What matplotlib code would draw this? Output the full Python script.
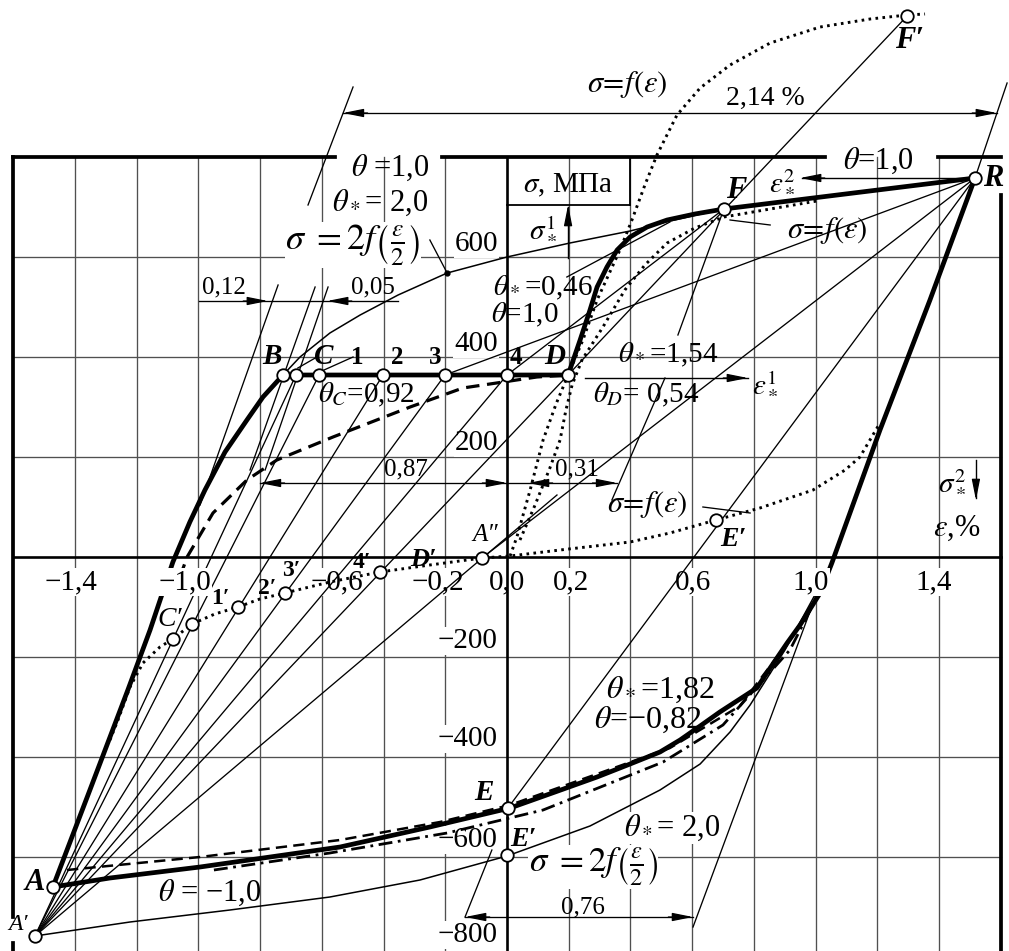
import matplotlib
matplotlib.use("Agg")
import matplotlib.pyplot as plt

plt.rcParams["font.family"] = ["Liberation Serif", "DejaVu Serif"]
plt.rcParams["mathtext.fontset"] = "stix"

MINUS = "\u2212"

# ---------------- data: strain in %, stress in MPa ----------------
strain_grid = [-1.4, -1.2, -1.0, -0.8, -0.6, -0.4, -0.2, 0.2, 0.4, 0.6, 0.8, 1.0, 1.2, 1.4]
stress_grid = [-600, -400, -200, 200, 400, 600]
strain_ticks = [-1.4, -1.0, -0.6, -0.2, 0.0, 0.2, 0.6, 1.0, 1.4]
strain_tick_labels = [MINUS + "1,4", MINUS + "1,0", MINUS + "0,6", MINUS + "0,2", "0,0", "0,2", "0,6", "1,0", "1,4"]
stress_ticks = [600, 400, 200, -200, -400, -600, -800]
stress_tick_labels = ["600", "400", "200", MINUS + "200", MINUS + "400", MINUS + "600", MINUS + "800"]

# main loop (thick): loading A-B, plateau B-D, hardening D-F-R
upper_eps = [-1.472, -1.352, -1.229, -1.157, -1.083, -1.028, -0.979, -0.914, -0.843, -0.791, -0.726,
             0.198, 0.237, 0.269, 0.292, 0.324, 0.357, 0.399, 0.454, 0.519, 0.609, 0.703, 1.517]
upper_sig = [-660, -466, -266, -146, -10, 70, 134, 210, 274, 320, 364,
             364, 434, 494, 540, 580, 614, 640, 660, 674, 686, 696, 758]
# reverse branch R -> A
lower_eps = [1.517, 1.371, 1.209, 1.053, 1.015, 0.950, 0.908, 0.853, 0.810, 0.755, 0.690, 0.626,
             0.561, 0.496, 0.399, 0.292, 0.156, 0.010, -0.250, -0.541, -0.995, -1.287, -1.472]
lower_sig = [758, 514, 254, -12, -72, -136, -172, -222, -262, -284, -310, -338,
             -366, -390, -414, -440, -470, -502, -540, -580, -620, -642, -660]

# dashed curves
dash_up_eps = [-1.06, -1.037, -0.953, -0.843, -0.746, -0.564, -0.314, -0.143, 0.097, 0.198]
dash_up_sig = [-40, 0, 88, 154, 194, 240, 300, 338, 360, 364]
dash_low_eps = [-1.426, -0.995, -0.541, -0.217, 0.010, 0.292, 0.528, 0.755, 0.917, 1.008]
dash_low_sig = [-626, -600, -566, -530, -496, -434, -382, -298, -166, -76]
# dash-dot curve
dashdot_eps = [-0.95, -0.574, -0.194, 0.117, 0.506, 0.700, 0.917, 1.008]
dashdot_sig = [-626, -592, -552, -506, -410, -336, -186, -76]

# sigma = 2 f(eps/2) curves (thin)
twof_up_eps = [-0.726, -0.671, -0.574, -0.476, -0.353, -0.194, 0.0, 0.204, 0.399, 0.528, 0.703]
twof_up_sig = [364, 400, 448, 484, 524, 568, 600, 628, 652, 672, 696]
twof_low_eps = [-1.530, -1.222, -0.898, -0.574, -0.282, 0.0, 0.269, 0.496, 0.626, 0.723, 0.788, 0.901, 0.998, 1.03]
twof_low_sig = [-758, -730, -706, -680, -646, -598, -538, -466, -414, -350, -296, -186, -76, -30]

# sigma = f(eps) dotted curves
dot_low_eps = [-1.287, -1.261, -1.222, -1.180, -1.125, -1.083, -1.021, -0.947, -0.872, -0.801, -0.720,
               -0.574, -0.412, -0.250, -0.081, 0.010, 0.172, 0.399, 0.528, 0.677, 0.820, 0.992,
               1.096, 1.144, 1.186, 1.209]
dot_low_sig = [-366, -326, -260, -212, -180, -164, -134, -114, -100, -84, -72,
               -50, -30, -16, -2, 2, 14, 30, 48, 74, 98, 134,
               174, 200, 244, 268]
dot_top_eps = [0.010, 0.032, 0.075, 0.117, 0.159, 0.198, 0.246, 0.292, 0.366, 0.405, 0.447, 0.486,
               0.551, 0.626, 0.723, 0.853, 1.015, 1.177, 1.297, 1.355]
dot_top_sig = [2, 40, 134, 234, 306, 364, 434, 514, 614, 674, 744, 804,
               884, 938, 984, 1028, 1060, 1076, 1084, 1086]
dot_mid_eps = [0.042, 0.091, 0.139, 0.172, 0.191, 0.211, 0.243, 0.311, 0.382, 0.447, 0.519, 0.609,
               0.703, 0.853, 1.005]
dot_mid_sig = [34, 104, 178, 234, 294, 344, 394, 460, 534, 584, 628, 658,
               680, 696, 712]

# characteristic points
pts = {
    "A": (-1.472, -660), "A'": (-1.530, -758), "B": (-0.726, 364), "C": (-0.684, 364),
    "1": (-0.609, 364), "2": (-0.402, 364), "3": (-0.201, 364), "4": (0.0, 364), "D": (0.198, 364),
    "F": (0.703, 696), "R": (1.517, 758), "F'": (1.297, 1082),
    "E": (0.003, -502), "E'": (0.0, -596), "E'u": (0.677, 74),
    "C'": (-1.083, -164), "1'": (-1.021, -134), "2'": (-0.872, -100), "3'": (-0.720, -72),
    "4'": (-0.412, -30), "A''": (-0.081, -2),
}
circled = ["A", "A'", "B", "C", "1", "2", "3", "4", "D", "F", "R", "F'", "E", "E'", "E'u",
           "C'", "1'", "2'", "3'", "4'", "A''"]

# rays between characteristic points
rays = [("A'", "C"), ("A'", "1"), ("A'", "2"), ("A'", "3"), ("A'", "4"), ("A'", "D"),
        ("R", "3"), ("R", "A''"), ("R", "E"), ("F'", "D"), ("F", "4")]

# other construction lines: ((eps0, sig0), (eps1, sig1))
guide_lines = [
    ((-1.530, -758), (0.162, 124)),
    ((-0.499, 940), (-0.645, 704)),
    ((1.621, 948), (1.517, 758)),
    ((-0.742, 544), (-0.995, 104)),
    ((-0.622, 540), (-0.833, 174)),
    ((-0.580, 540), (-0.784, 174)),
    ((0.340, 114), (0.512, 358)),
    ((-0.136, -720), (-0.049, -586)),
    ((0.603, -740), (1.008, -66)),
    ((-0.250, 634), (-0.194, 568)),
    ((0.723, 674), (0.853, 664)),
    ((0.635, 100), (0.788, 88)),
    ((-0.678, 378), (-0.616, 400)),
    ((-0.593, 374), (-0.499, 400)),
    ((0.194, 560), (0.528, 670)),
    ((0.554, 444), (0.703, 696)),
]

# dimension lines: (eps_start, eps_end, sig); arrow tips (eps, sig, direction)
dim_lines = [(-0.532, 1.588, 888), (-0.998, -0.353, 512), (-0.801, 0.357, 148), (-0.136, 0.603, -720)]
dim_tips = [(-0.532, 888, -1), (1.588, 888, 1), (-0.775, 512, 1), (-0.583, 512, -1),
            (-0.801, 148, -1), (0.0, 148, 1), (0.068, 148, -1), (0.357, 148, 1),
            (-0.136, -720, -1), (0.603, -720, 1)]

# ---------------- figure ----------------
fig = plt.figure(figsize=(10.09, 9.51), dpi=100)
ax = fig.add_axes([0, 0, 1, 1])
ax.set_xlim(-1.6434, 1.6272)
ax.set_ylim(-788, 1114)
ax.axis("off")

GRID = "#505050"
K = "black"

for e in strain_grid:
    ax.plot([e, e], [-800, 800], color=GRID, lw=0.95, zorder=1)
for s in stress_grid:
    ax.plot([-1.6, 1.6], [s, s], color=GRID, lw=0.95, zorder=1)

# frame with gaps for the labels on it
frame_w = 2.7
ax.plot([-1.6, -1.6], [800, -720], color=K, lw=frame_w, zorder=2, solid_capstyle="projecting")
ax.plot([-1.6, -1.6], [-772, -800], color=K, lw=frame_w, zorder=2)
ax.plot([1.6, 1.6], [724, -800], color=K, lw=frame_w, zorder=2)
for x0, x1 in [(-1.6, -0.558), (-0.211, 1.031), (1.397, 1.6)]:
    ax.plot([x0, x1], [800, 800], color=K, lw=frame_w, zorder=2, solid_capstyle="projecting")

# axes
ax.plot([-1.6, 1.6], [0, 0], color=K, lw=1.9, zorder=2)
ax.plot([0, 0], [800, -800], color=K, lw=1.9, zorder=2)
ax.plot([0, 0.399], [704, 704], color=K, lw=1.3, zorder=2)
ax.plot([0.399, 0.399], [704, 800], color=K, lw=1.3, zorder=2)

# construction lines
for a, b in rays:
    (x0, y0), (x1, y1) = pts[a], pts[b]
    ax.plot([x0, x1], [y0, y1], color=K, lw=0.95, zorder=3)
for (x0, y0), (x1, y1) in guide_lines:
    ax.plot([x0, x1], [y0, y1], color=K, lw=0.95, zorder=3)

# curves
ax.plot(twof_up_eps, twof_up_sig, color=K, lw=1.1, zorder=3)
ax.plot(twof_low_eps, twof_low_sig, color=K, lw=1.1, zorder=3)
dotted = dict(color=K, lw=2.1, linestyle=(0, (0.9, 1.5)), zorder=4)
ax.plot(dot_low_eps, dot_low_sig, **dotted)
ax.plot(dot_top_eps, dot_top_sig, **dotted)
ax.plot(dot_mid_eps, dot_mid_sig, **dotted)
ax.plot(dash_up_eps, dash_up_sig, color=K, lw=2.3, linestyle=(0, (4.2, 2.4)), zorder=4)
ax.plot(dash_low_eps, dash_low_sig, color=K, lw=1.8, linestyle=(0, (4.5, 2.5)), zorder=4)
ax.plot(dashdot_eps, dashdot_sig, color=K, lw=2.0, linestyle=(0, (5, 2, 1, 2)), zorder=4)
ax.plot(upper_eps, upper_sig, color=K, lw=3.4, zorder=5, solid_joinstyle="round")
ax.plot(lower_eps, lower_sig, color=K, lw=3.4, zorder=5, solid_joinstyle="round")


def head(tip, direction, vertical=False):
    """Filled arrowhead ending at tip; direction +1 points right/up, -1 left/down."""
    x, y = tip
    if vertical:
        tail = (x, y - direction * 40)
    else:
        tail = (x - direction * 0.08, y)
    ax.annotate("", xy=(x, y), xytext=tail,
                arrowprops=dict(arrowstyle="-|>,head_length=0.9,head_width=0.18",
                                color=K, lw=0.9, shrinkA=0, shrinkB=0, mutation_scale=14),
                zorder=6)


# dimension lines
for x0, x1, y in dim_lines:
    ax.plot([x0, x1], [y, y], color=K, lw=0.95, zorder=3)
for x, y, d in dim_tips:
    head((x, y), d)

# shifted coordinate axes
ax.plot([0.198, 0.198], [598, 700], color=K, lw=1.0, zorder=3)
head((0.198, 704), 1, vertical=True)
ax.plot([1.520, 1.520], [194, 118], color=K, lw=1.0, zorder=3)
head((1.520, 114), -1, vertical=True)
ax.plot([0.253, 0.78], [358, 358], color=K, lw=1.0, zorder=3)
head((0.781, 358), 1)
ax.plot([1.50, 0.955], [758, 758], color=K, lw=1.0, zorder=3)
head((0.950, 758), -1)

# points
for name in circled:
    x, y = pts[name]
    ax.plot(x, y, "o", ms=9, mfc="white", mec=K, mew=1.3, zorder=7)
ax.plot(-0.194, 568, "o", ms=3.5, color=K, zorder=7)

# ---------------- text ----------------
WHITE = dict(facecolor="white", edgecolor="none", pad=0.6)


def txt(x, y, s, size=21, z=8, bg=False, **kw):
    kw.setdefault("ha", "center")
    kw.setdefault("va", "center")
    ax.text(x, y, s, fontsize=size, zorder=z, bbox=WHITE if bg else None, **kw)


tick_dx = {-1.4: -0.013, -1.0: -0.044, -0.6: 0.049, -0.2: -0.024, 0.0: 0.0, 0.2: 0.007,
           0.6: 0.003, 1.0: -0.015, 1.4: -0.016}
for e, lab in zip(strain_ticks, strain_tick_labels):
    z = 5.5 if e in (-1.0, 1.0) else 1.5
    txt(e + tick_dx[e], -50, lab, size=21, z=z, bg=True)
tick_dy = {600: 26, 400: 26, 200: 28, -200: 32, -400: 36, -600: 34, -800: 44}
for s, lab in zip(stress_ticks, stress_tick_labels):
    dx = -0.10 if s > 0 else -0.128
    txt(dx, s + tick_dy[s], lab, size=21, z=1.5, bg=True)

bi = dict(fontweight="bold", fontstyle="italic")
two_f = r"$\sigma\ =2f\left(\frac{\varepsilon}{2}\right)$"
f_eps = r"$\sigma\!=\!f(\varepsilon)$"
DIM = 18

txt(-0.379, 778, r"$\theta$ =1,0", size=22)
txt(-0.412, 708, r"$\theta_*$= 2,0", size=22)
txt(-0.50, 624, two_f, size=26, z=1.5, bg=True)
txt(-0.917, 540, "0,12", size=DIM)
txt(-0.434, 540, "0,05", size=DIM)
txt(0.198, 744, r"$\sigma$, МПа", size=21)
txt(0.117, 658, r"$\sigma_*^1$", size=21)
txt(0.117, 538, r"$\theta_*$=0,46", size=21)
txt(0.058, 484, r"$\theta$=1,0", size=21)
txt(-0.762, 402, "B", size=21, **bi)
txt(-0.593, 402, "C", size=21, **bi)
txt(-0.486, 398, "1", size=18, fontweight="bold")
txt(-0.357, 398, "2", size=18, fontweight="bold")
txt(-0.233, 398, "3", size=18, fontweight="bold")
txt(0.029, 398, "4", size=18, fontweight="bold")
txt(0.156, 402, "D", size=21, **bi)
txt(-0.457, 324, r"$\theta_C$=0,92", size=21)
txt(0.522, 404, r"$\theta_*$=1,54", size=21)
txt(0.451, 324, r"$\theta_D$= 0,54", size=21)
txt(0.836, 348, r"$\varepsilon_*^1$", size=21)
txt(-0.327, 176, "0,87", size=DIM)
txt(0.227, 176, "0,31", size=DIM)
txt(0.454, 104, f_eps, size=22)
txt(0.733, 36, "E\u2032", size=20, **bi)
txt(1.442, 152, r"$\sigma_*^2$", size=21)
txt(1.459, 58, r"$\varepsilon$,%", size=22)
txt(-1.092, -126, "C\u2032", size=20, fontstyle="italic")
txt(-0.930, -84, "1\u2032", size=17, fontweight="bold")
txt(-0.778, -62, "2\u2032", size=17, fontweight="bold")
txt(-0.700, -28, "3\u2032", size=17, fontweight="bold")
txt(-0.470, -10, "4\u2032", size=17, fontweight="bold")
txt(-0.272, -4, "D\u2032", size=19, **bi)
txt(-0.071, 44, "A\u2033", size=18, fontstyle="italic")
txt(0.496, -266, r"$\theta_*$=1,82", size=23)
txt(0.457, -326, r"$\theta$=" + MINUS + "0,82", size=23)
txt(-0.075, -472, "E", size=21, **bi)
txt(0.052, -564, "E\u2032", size=20, **bi)
txt(0.535, -542, r"$\theta_*$= 2,0", size=22, z=1.5, bg=True)
txt(0.279, -620, two_f, size=25, z=1.5, bg=True)
txt(0.246, -700, "0,76", size=DIM)
txt(-1.530, -650, "A", size=22, **bi)
txt(-1.585, -736, "A\u2032", size=17, fontstyle="italic")
txt(-0.963, -672, r"$\theta$ = " + MINUS + "1,0", size=22)
txt(1.203, 792, r"$\theta$=1,0", size=22)
txt(1.575, 758, "R", size=22, **bi)
txt(0.742, 734, "F", size=22, **bi)
txt(0.891, 752, r"$\varepsilon_*^2$", size=21)
txt(1.037, 654, f_eps, size=22)
txt(1.306, 1034, "F\u2032", size=22, **bi)
txt(0.836, 918, "2,14 %", size=20)
txt(0.389, 944, f_eps, size=22)

fig.savefig("out.png", dpi=100)
